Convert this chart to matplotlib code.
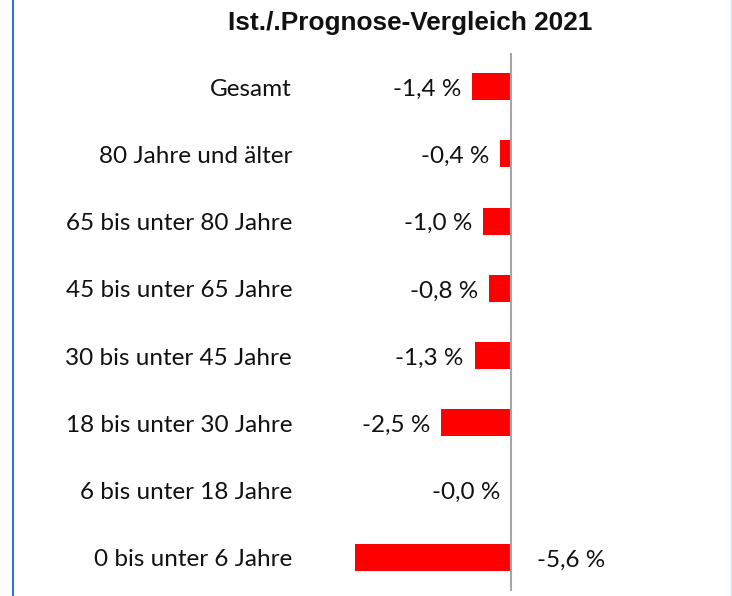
import matplotlib
matplotlib.use("Agg")
import matplotlib.pyplot as plt
from matplotlib.lines import Line2D
import matplotlib.transforms as mtransforms

categories = ["Gesamt", "80 Jahre und älter", "65 bis unter 80 Jahre",
              "45 bis unter 65 Jahre", "30 bis unter 45 Jahre",
              "18 bis unter 30 Jahre", "6 bis unter 18 Jahre", "0 bis unter 6 Jahre"]
values = [-1.4, -0.4, -1.0, -0.8, -1.3, -2.5, -0.0, -5.6]
value_labels = ["-1,4 %", "-0,4 %", "-1,0 %", "-0,8 %", "-1,3 %", "-2,5 %", "-0,0 %", "-5,6 %"]
title = "Ist./.Prognose-Vergleich 2021"

W, H = 732, 596
fig = plt.figure(figsize=(W / 100, H / 100), dpi=100)
fig.patch.set_facecolor("white")

ax_left, ax_right = 320, 700
ax_top, ax_bottom = 53, 591
ax = fig.add_axes([ax_left / W, 1 - ax_bottom / H, (ax_right - ax_left) / W, (ax_bottom - ax_top) / H])

n = len(categories)
ypos = list(range(n))
ax.barh(ypos, values, height=0.40, color="#FF0000", zorder=2)
ax.set_ylim(n - 0.5, -0.5)
ax.set_xlim(-6.85, 6.77)
ax.axvline(0, color="#A6A6A6", lw=1.5, zorder=3)
for s in ax.spines.values():
    s.set_visible(False)
ax.set_xticks([])
ax.set_yticks([])

font = "Lato"
fs = 17.5
txtc = "#111111"
dy = -2.5
for i, (v, lab) in enumerate(zip(values, value_labels)):
    if v <= -3:
        ax.annotate(lab, (0, i), xytext=(26, dy), textcoords="offset pixels",
                    ha="left", va="center", fontsize=fs, family=font, color=txtc)
    else:
        ax.annotate(lab, (v, i), xytext=(-11, dy), textcoords="offset pixels",
                    ha="right", va="center", fontsize=fs, family=font, color=txtc)

blend = mtransforms.blended_transform_factory(fig.transFigure, ax.transData)
for i, c in enumerate(categories):
    ax.annotate(c, (292 / W, i), xycoords=blend, xytext=(0, dy), textcoords="offset pixels",
                ha="right", va="center", fontsize=fs, family=font, color=txtc,
                annotation_clip=False)

fig.text(410 / W, 1 - 23 / H, title, ha="center", va="center", fontsize=18.9,
         fontweight="bold", family="Liberation Sans", color=txtc)

fig.add_artist(Line2D([12.5 / W, 12.5 / W], [0, 1], transform=fig.transFigure, color="#2E75D6", lw=1.5))
fig.add_artist(Line2D([731 / W, 731 / W], [0, 1], transform=fig.transFigure, color="#DCE6F2", lw=1))

fig.savefig("out.png", dpi=100)
